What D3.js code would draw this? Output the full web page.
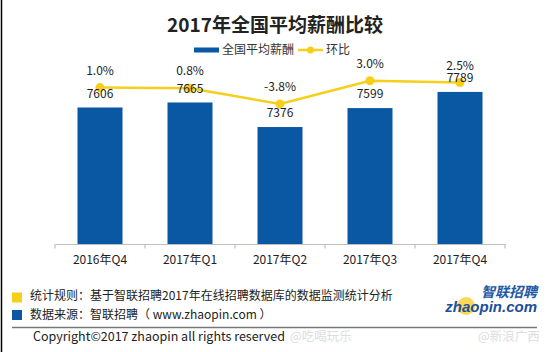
<!DOCTYPE html>
<html>
<head>
<meta charset="utf-8">
<script src="https://cdn.jsdelivr.net/npm/d3@7"></script>
<style>
    html, body { margin: 0; padding: 0; background: #fff; }
    svg text { font-family: "Noto Sans CJK SC", "Microsoft YaHei", sans-serif; }
</style>
</head>
<body>
<div id="chart"></div>
<script>
(function() {
    'use strict';

    // Data
    var categories = ["2016年Q4", "2017年Q1", "2017年Q2", "2017年Q3", "2017年Q4"];
    var salary = [7606, 7665, 7376, 7599, 7789];
    var mom = [1.0, 0.8, -3.8, 3.0, 2.5];          // 环比, %
    var legendNames = ["全国平均薪酬", "环比"];
    var footNotes = [
        "统计规则：基于智联招聘2017年在线招聘数据库的数据监测统计分析",
        "数据来源：智联招聘（ www.zhaopin.com ）"
    ];

    var W = 549, H = 352;
    var blue = "#0a57a4", yellow = "#f6cf1a";

    var svg = d3.select("#chart").append("svg")
        .attr("width", W).attr("height", H);

    // left border
    svg.append("line")
        .attr("x1", 1.5).attr("x2", 1.5).attr("y1", 0).attr("y2", H)
        .attr("stroke", "#000").attr("stroke-width", 1.5);

    // Scales
    var x = d3.scaleBand().domain(categories).range([55, 505])
        .paddingInner(0.5).paddingOuter(0.25);
    var y = d3.scaleLinear().domain([6000, 8000]).range([244, 74]);
    var y2 = d3.scaleLinear().domain([-45, 5]).range([244, 74]);
    var step = x.step();

    // Title
    svg.append("text")
        .attr("x", 275).attr("y", 25).attr("dy", "0.35em")
        .attr("text-anchor", "middle")
        .attr("font-size", 19).attr("font-weight", "bold")
        .attr("fill", "#222")
        .text("2017年全国平均薪酬比较");

    // Legend
    var lg = svg.append("g");
    lg.append("rect").attr("x", 194).attr("y", 47.5).attr("width", 25).attr("height", 5).attr("fill", blue);
    lg.append("text").attr("x", 222).attr("y", 50).attr("dy", "0.35em")
        .attr("font-size", 12).attr("fill", "#333").text(legendNames[0]);
    lg.append("line").attr("x1", 298).attr("x2", 323).attr("y1", 50).attr("y2", 50)
        .attr("stroke", yellow).attr("stroke-width", 2.5);
    lg.append("circle").attr("cx", 310.5).attr("cy", 50).attr("r", 3.5).attr("fill", yellow);
    lg.append("text").attr("x", 326).attr("y", 50).attr("dy", "0.35em")
        .attr("font-size", 12).attr("fill", "#333").text(legendNames[1]);

    // Bars
    svg.selectAll(".bar").data(salary).enter().append("rect")
        .attr("class", "bar")
        .attr("x", function(d, i) { return x(categories[i]); })
        .attr("width", x.bandwidth())
        .attr("y", function(d) { return y(d); })
        .attr("height", function(d) { return y(6000) - y(d); })
        .attr("fill", blue);

    // Axis
    var elXAxis = svg.append("g").attr("transform", "translate(0,244)")
        .call(d3.axisBottom(x).tickSize(0).tickPadding(11));
    elXAxis.select(".domain").attr("stroke", "#bfbfbf").attr("stroke-width", 1.2);
    elXAxis.selectAll("text")
        .attr("font-size", 12).attr("fill", "#222")
        .style("font-family", '"Noto Sans CJK SC", sans-serif');
    var edges = categories.map(function(c) { return x(c) - step * 0.25; })
        .concat([x(categories[categories.length - 1]) + step * 0.75]);
    svg.selectAll(".edge").data(edges).enter().append("line")
        .attr("class", "edge")
        .attr("x1", function(d) { return d; }).attr("x2", function(d) { return d; })
        .attr("y1", 244).attr("y2", 248.5)
        .attr("stroke", "#bfbfbf").attr("stroke-width", 1.2);

    // Line
    var cx = function(i) { return x(categories[i]) + x.bandwidth() / 2; };
    var line = d3.line()
        .x(function(d, i) { return cx(i); })
        .y(function(d) { return y2(d); });
    svg.append("path").datum(mom)
        .attr("d", line).attr("fill", "none")
        .attr("stroke", yellow).attr("stroke-width", 2.5);
    svg.selectAll(".pt").data(mom).enter().append("circle")
        .attr("class", "pt")
        .attr("cx", function(d, i) { return cx(i); })
        .attr("cy", function(d) { return y2(d); })
        .attr("r", 4.5).attr("fill", yellow);

    // Labels
    svg.selectAll(".vlab").data(salary).enter().append("text")
        .attr("class", "vlab")
        .attr("x", function(d, i) { return cx(i); })
        .attr("y", function(d) { return y(d) - 14; })
        .attr("dy", "0.35em").attr("text-anchor", "middle")
        .attr("font-size", 12).attr("fill", "#222")
        .text(function(d) { return d; });
    svg.selectAll(".plab").data(mom).enter().append("text")
        .attr("class", "plab")
        .attr("x", function(d, i) { return cx(i); })
        .attr("y", function(d) { return y2(d) - 17; })
        .attr("dy", "0.35em").attr("text-anchor", "middle")
        .attr("font-size", 12).attr("fill", "#222")
        .text(function(d) { return d.toFixed(1) + "%"; });

    // Footer
    svg.append("rect").attr("x", 12).attr("y", 292.5).attr("width", 10).attr("height", 10).attr("fill", yellow);
    svg.append("rect").attr("x", 12).attr("y", 310).attr("width", 10).attr("height", 10).attr("fill", blue);
    svg.selectAll(".note").data(footNotes).enter().append("text")
        .attr("class", "note")
        .attr("x", 30)
        .attr("y", function(d, i) { return 296 + i * 18.3; })
        .attr("dy", "0.35em")
        .attr("font-size", 12).attr("fill", "#222")
        .text(function(d) { return d; });
    svg.append("line").attr("x1", 12).attr("x2", 537).attr("y1", 327.5).attr("y2", 327.5)
        .attr("stroke", "#777").attr("stroke-width", 1.5);
    svg.append("text").attr("x", 33).attr("y", 337).attr("dy", "0.35em")
        .attr("font-size", 12.5).attr("fill", "#222")
        .text("Copyright©2017 zhaopin all rights reserved");

    // Logo
    var logo = svg.append("g");
    logo.append("circle").attr("cx", 466).attr("cy", 306).attr("r", 9)
        .attr("fill", "#f8d23a").attr("opacity", 0.85);
    logo.append("text").attr("x", 537).attr("y", 297).attr("text-anchor", "end")
        .attr("font-size", 14).attr("font-weight", "bold").attr("font-style", "italic")
        .attr("fill", "#2358a6").text("智联招聘");
    logo.append("text").attr("x", 537).attr("y", 312).attr("text-anchor", "end")
        .attr("font-size", 15).attr("font-weight", "bold").attr("font-style", "italic")
        .style("font-family", '"Liberation Sans", Arial, sans-serif')
        .attr("fill", "#1d4f9a").text("zhaopin.com");

    // faint watermarks
    svg.append("text").attr("x", 290).attr("y", 337).attr("dy", "0.35em")
        .attr("font-size", 12.5).attr("fill", "#ddd")
        .text("@吃喝玩乐");
    svg.append("text").attr("x", 478).attr("y", 337).attr("dy", "0.35em")
        .attr("font-size", 12.5).attr("fill", "#ddd")
        .text("@新浪广西");
})();
</script>
</body>
</html>
